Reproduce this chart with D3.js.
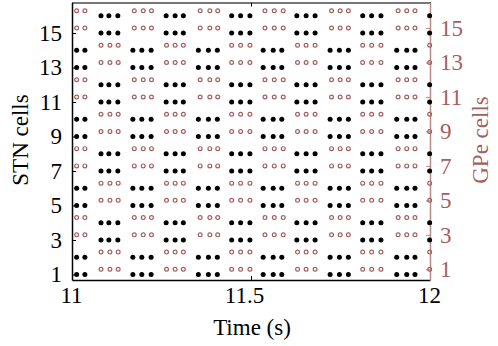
<!DOCTYPE html>
<html>
<head>
<meta charset="utf-8">
<script src="https://cdn.jsdelivr.net/npm/d3@7"></script>
<style>
  body { margin: 0; background: #fff; }
  svg, svg text { display: block; font-family: "Liberation Serif", "DejaVu Serif", serif; }
</style>
</head>
<body>
<div id="raster"></div>
<script>
// spike times (s) of the two burst patterns
const stnBurstA = [11.081, 11.103, 11.128, 11.263, 11.288, 11.311, 11.446, 11.471, 11.497,
  11.628, 11.654, 11.679, 11.812, 11.837, 11.863, 11.999];
const stnBurstB = [11.013, 11.036, 11.170, 11.195, 11.221, 11.353, 11.381, 11.406,
  11.534, 11.562, 11.586, 11.721, 11.747, 11.772, 11.907, 11.935, 11.958];
const gpeBurstA = [11.081, 11.106, 11.129, 11.264, 11.288, 11.311, 11.446, 11.471, 11.497,
  11.630, 11.654, 11.679, 11.812, 11.837, 11.863, 11.999];
const gpeBurstB = [11.013, 11.036, 11.174, 11.199, 11.222, 11.358, 11.385, 11.407,
  11.539, 11.565, 11.590, 11.725, 11.749, 11.772, 11.911, 11.935, 11.958];

// which pattern each cell (1..16) fires with
const stnCellPattern = ["B", "B", "A", "A", "B", "B", "A", "A", "B", "B", "A", "A", "B", "B", "A", "A"];
const gpeCellPattern = ["A", "A", "B", "B", "A", "A", "B", "B", "A", "A", "B", "B", "A", "A", "B", "B"];

const xTicks = [11, 11.5, 12];
const yTicks = [1, 3, 5, 7, 9, 11, 13, 15];

const gpeColor = "#a35f5f";
const gpeAxisColor = "#b98a8a";

(function () {
  const W = 498, H = 346;
  const margin = { top: 2.5, right: 68, bottom: 66, left: 72 };
  const serif = "'Liberation Serif', 'DejaVu Serif', serif";

  const svg = d3.select("#raster").append("svg")
    .attr("width", W).attr("height", H);

  const x = d3.scaleLinear().domain([11, 12]).range([margin.left, W - margin.right]);
  const yStn = d3.scaleLinear().domain([0.68, 16.77]).range([H - margin.bottom, margin.top]);
  const yGpe = d3.scaleLinear().domain([0.38, 16.48]).range([H - margin.bottom, margin.top]);

  const spikes = (pattern, a, b) => pattern.flatMap((p, i) =>
    (p === "A" ? a : b).map(t => ({ cell: i + 1, t })));

  const stnSpikes = spikes(stnCellPattern, stnBurstA, stnBurstB);
  const gpeSpikes = spikes(gpeCellPattern, gpeBurstA, gpeBurstB);

  // axes
  const fontSize = 23;

  const bottom = svg.append("g")
    .attr("transform", `translate(0,${H - margin.bottom})`)
    .call(d3.axisBottom(x).tickValues(xTicks).tickSizeInner(-4).tickSizeOuter(0).tickPadding(7)
      .tickFormat(d3.format("")));
  bottom.select(".domain").attr("stroke", "#000").attr("stroke-width", 1.5);
  bottom.selectAll("text").attr("font-size", fontSize).attr("fill", "#000")
    .style("font-family", serif)
    .attr("dx", d => d === 11.5 ? -7 : -1);

  const top = svg.append("g")
    .attr("transform", `translate(0,${margin.top})`)
    .call(d3.axisTop(x).tickValues(xTicks).tickSizeInner(-4).tickSizeOuter(0).tickFormat(""));
  top.select(".domain").attr("stroke", "#777").attr("stroke-width", 2);

  const left = svg.append("g")
    .attr("transform", `translate(${margin.left},0)`)
    .call(d3.axisLeft(yStn).tickValues(yTicks).tickSizeInner(-4).tickSizeOuter(0).tickPadding(10));
  left.select(".domain").attr("stroke", "#000").attr("stroke-width", 1.5);
  left.selectAll("text").attr("font-size", fontSize).attr("fill", "#000")
    .style("font-family", serif);

  const right = svg.append("g")
    .attr("transform", `translate(${W - margin.right},0)`)
    .call(d3.axisRight(yGpe).tickValues(yTicks).tickSizeInner(-4).tickSizeOuter(0).tickPadding(10));
  right.select(".domain").attr("stroke", gpeAxisColor).attr("stroke-width", 1.5);
  right.selectAll(".tick line").attr("stroke", gpeAxisColor);
  right.selectAll("text").attr("font-size", fontSize).attr("fill", gpeColor)
    .style("font-family", serif);

  // spikes
  svg.append("g").selectAll("circle")
    .data(stnSpikes)
    .join("circle")
    .attr("cx", d => x(d.t))
    .attr("cy", d => yStn(d.cell))
    .attr("r", 2.5)
    .attr("fill", "#000");

  svg.append("g").selectAll("circle")
    .data(gpeSpikes)
    .join("circle")
    .attr("cx", d => x(d.t))
    .attr("cy", d => yGpe(d.cell))
    .attr("r", 1.9)
    .attr("fill", "none")
    .attr("stroke", gpeColor)
    .attr("stroke-width", 1.2);

  // labels
  svg.append("text")
    .attr("x", (margin.left + W - margin.right) / 2 + 1)
    .attr("y", 335)
    .attr("text-anchor", "middle")
    .attr("font-size", fontSize)
    .text("Time (s)");

  svg.append("text")
    .attr("transform", "translate(28,140) rotate(-90)")
    .attr("text-anchor", "middle")
    .attr("font-size", fontSize)
    .text("STN cells");

  svg.append("text")
    .attr("transform", "translate(488,140) rotate(-90)")
    .attr("text-anchor", "middle")
    .attr("font-size", fontSize)
    .attr("fill", gpeColor)
    .text("GPe cells");
})();
</script>
</body>
</html>
